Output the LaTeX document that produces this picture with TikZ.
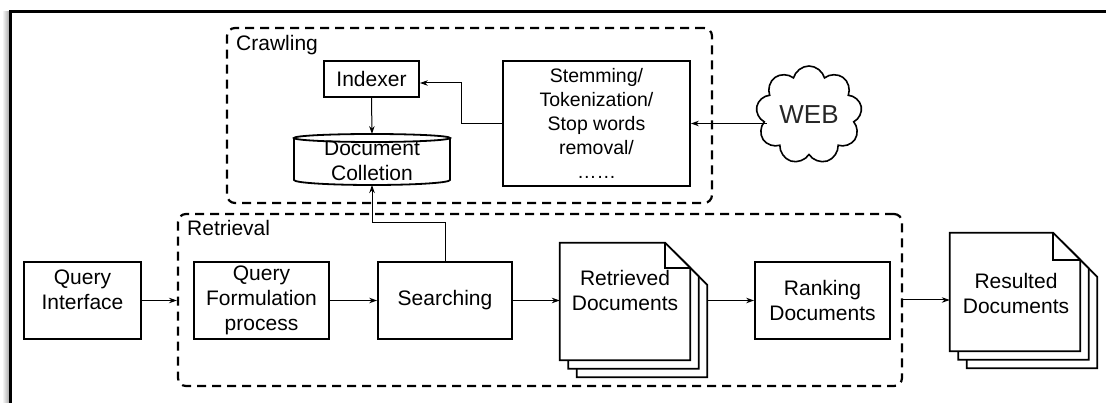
\documentclass[tikz,border=0pt]{standalone}
\usepackage{fontspec}
\setmainfont{Liberation Sans}
\usetikzlibrary{shapes.symbols,arrows.meta,calc}
\begin{document}
\begin{tikzpicture}[x=1pt,y=-1pt,
 txt/.style={font=\fontsize{21}{25}\selectfont},
 box/.style={txt,draw,line width=1.8pt,inner sep=0pt,align=center},
 grp/.style={draw,line width=2.2pt,dash pattern=on 9pt off 6pt,rounded corners=8pt,inner sep=0pt},
 conn/.style={line width=1pt,-{Stealth[length=8pt,width=5.5pt]}},
 lbl/.style={txt,inner sep=0pt},
 page/.style={draw,line width=1.8pt,fill=white,line join=miter},
 flap/.style={draw,line width=1.8pt}
]
\useasboundingbox (0,0) rectangle (1106,403);
% outer frame
\shade[left color=white,right color=black!35] (2,12) rectangle (9.5,410);
\draw[line width=2.6pt] (10.5,410) -- (10.5,11.5) -- (1115,11.5);

% groups
\node[grp,minimum width=485pt,minimum height=175pt] (crawl) at (469.5,115.5) {};
\node[lbl,anchor=west] (crawllbl) at (236,45) {Crawling};
\node[grp,minimum width=724pt,minimum height=172pt] (retr) at (540,300) {};
\node[lbl,anchor=west] (retrlbl) at (187,228) {Retrieval};

% crawling part
\node[box,minimum width=95pt,minimum height=36pt] (idx) at (371.5,79) {Indexer};
\node[box,minimum width=187pt,minimum height=125pt,font=\fontsize{19.5}{24}\selectfont] (stem) at (596.5,123.5)
  {Stemming/\\Tokenization/\\Stop words\\removal/\\\ldots\ldots};
\node[txt,minimum width=156pt,minimum height=52pt,inner sep=0pt,align=center] (coll) at (372,161) {Document\\Colletion};
\path (372,159) coordinate (cc);
\draw[line width=1.8pt] ($(cc)+(-78,-21)$) -- ($(cc)+(-78,21)$)
   arc[start angle=180,end angle=0,x radius=78,y radius=5] -- ($(cc)+(78,-21)$);
\draw[line width=1.8pt] ($(cc)+(0,-21)$) ellipse[x radius=78,y radius=4];
\coordinate (collbot) at ($(cc)+(0,26)$);
\coordinate (colltop) at ($(cc)+(0,-25)$);
\node[draw,cloud,cloud puffs=9,aspect=1.1,line width=1.6pt,minimum width=106pt,minimum height=98pt,
  inner sep=0pt,font=\fontsize{26}{30}\selectfont,text=black!85] (web) at (809,115) {WEB};

% retrieval part
\node[box,minimum width=117pt,minimum height=77pt] (qi) at (82.5,300.5) {};
\node[lbl,align=center] (qitext) at (82.5,290) {Query\\Interface};
\node[box,minimum width=135pt,minimum height=77pt] (qf) at (261.5,300.5) {Query\\Formulation\\process};
\node[box,minimum width=134pt,minimum height=77pt] (search) at (445,300.5) {Searching};
\node[box,minimum width=135pt,minimum height=77pt] (rank) at (822.5,300.5) {Ranking\\Documents};

% retrieved documents stack
\node[minimum width=130pt,minimum height=117pt,inner sep=0pt] (rd) at (625,301.5) {};
\foreach \d in {17,8.5,0}{
  \draw[page] ($(rd.north west)+(\d,\d)$) -- ($(rd.north east)+(\d-25,\d)$) -- ($(rd.north east)+(\d,\d+25)$)
     -- ($(rd.south east)+(\d,\d)$) -- ($(rd.south west)+(\d,\d)$) -- cycle;
}
\draw[flap] ($(rd.north east)+(-25,0)$) -- ($(rd.north east)+(-25,25)$) -- ($(rd.north east)+(0,25)$);
\node[lbl,align=center] (rdtext) at (625,290) {Retrieved\\Documents};
\coordinate (rdback) at ($(rd.east)+(17,0)$);

% resulted documents stack
\node[minimum width=130pt,minimum height=118pt,inner sep=0pt] (res) at (1015,292) {};
\foreach \d in {17,8.5,0}{
  \draw[page] ($(res.north west)+(\d,\d)$) -- ($(res.north east)+(\d-27,\d)$) -- ($(res.north east)+(\d,\d+27)$)
     -- ($(res.south east)+(\d,\d)$) -- ($(res.south west)+(\d,\d)$) -- cycle;
}
\draw[flap] ($(res.north east)+(-27,0)$) -- ($(res.north east)+(-27,27)$) -- ($(res.north east)+(0,27)$);
\node[lbl,align=center] (restext) at (1016,293.5) {Resulted\\Documents};

% connectors
\draw[conn] (idx.south) -- (colltop);
\draw[conn] (stem.west) -- ++(-41,0) |- ([yshift=-4pt]idx.east);
\draw[conn] ($(web.west |- stem.east)+(10,0)$) -- (stem.east);
\draw[conn] (search.north) -- ++(0,-39) -| (collbot);
\draw[conn] (qi.east) -- (qi.east -| retr.west);
\draw[conn] (qf.east) -- (search.west);
\draw[conn] (search.east) -- (search.east -| rd.west);
\draw[conn] (rdback |- rank.west) -- (rank.west);
\draw[conn] (retr.east) -- (retr.east -| res.west);
\end{tikzpicture}
\end{document}
